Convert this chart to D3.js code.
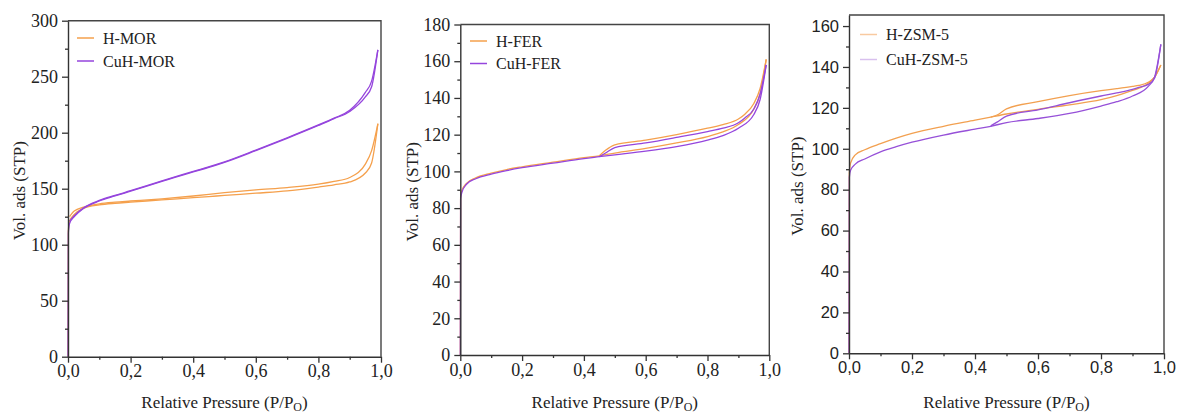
<!DOCTYPE html>
<html>
<head>
<meta charset="utf-8">
<script src="https://cdn.jsdelivr.net/npm/d3@7"></script>
<style>
  body { margin: 0; background: #fff; }
  svg { display: block; }
  .serif { font-family: "Liberation Serif", "DejaVu Serif", serif; }
  .sans { font-family: "Liberation Sans", Arial, sans-serif; }
</style>
</head>
<body>
<script>
// relative pressure grids
var adsP = [0, 0.001, 0.005, 0.02, 0.05, 0.1, 0.15, 0.2, 0.3, 0.4, 0.45, 0.5, 0.6, 0.7, 0.8, 0.85, 0.9, 0.95, 0.97, 0.99];
var desP = [0.45, 0.47, 0.5, 0.6, 0.7, 0.8, 0.85, 0.9, 0.92, 0.95, 0.97, 0.99];
var desPMor = [0.005, 0.02, 0.05, 0.1, 0.15, 0.2, 0.3, 0.4, 0.5, 0.6, 0.7, 0.8, 0.85, 0.9, 0.95, 0.97, 0.99];

// MOR
var hMorAds = [0, 112, 121, 127, 132.5, 135.5, 137, 138, 140, 142, 143, 144, 146, 148, 151.5, 153.5, 156, 164, 173, 208];
var hMorDes = [125, 130, 133.5, 136.5, 138, 139, 141, 143.5, 146.5, 149, 151, 154, 156.5, 160, 172, 184, 208];
var cuMorAds = [0, 110, 119, 125, 132.5, 139, 143.5, 147.8, 156.5, 165, 169, 173.5, 184, 195, 206.5, 212.5, 219, 232, 241, 274];
var cuMorDes = [121, 126, 133, 139.5, 144, 148.2, 157, 165.5, 174, 184.5, 195.5, 207, 213, 220, 236, 246, 274];

// FER
var hFerAds = [0, 86, 89.5, 93.5, 96.5, 99, 101, 102.5, 105, 107.5, 108.5, 110, 112.5, 115.5, 119, 121.5, 125.5, 134, 142, 161];
var hFerDes = [108.5, 111.5, 114.5, 117, 120, 123.5, 125.5, 128.5, 131, 137, 145, 161];
var cuFerAds = [0, 85, 88.5, 93, 96, 98.5, 100.4, 102, 104.5, 107, 108, 109, 111, 113.5, 117, 119.5, 123.5, 131, 139, 158];
var cuFerDes = [108, 110, 113, 115.5, 118.5, 121.7, 123.5, 126.5, 129, 134, 142, 158];

// ZSM-5
var hZsmAds = [0, 88, 93, 97, 99.5, 102.5, 105.2, 107.5, 111, 114, 115.5, 117, 119.3, 121.5, 124, 126, 128.5, 132, 135, 141];
var hZsmDes = [115.5, 116.5, 119.5, 123, 126, 128.4, 129.4, 130.5, 131, 132.5, 135, 141];
var cuZsmAds = [0, 86, 89.5, 92.5, 95, 98.5, 101, 103.2, 106.7, 109.6, 111, 112.8, 114.8, 117.3, 120.9, 123, 125.8, 130.5, 135, 151];
var cuZsmDes = [111.2, 113, 116, 119, 122.5, 125.8, 127.3, 129, 130, 131.5, 134.5, 151];

var xTicks = [0, 0.2, 0.4, 0.6, 0.8, 1.0];

var W = 1178, H = 414;
var orange = '#f5a04c', purple = '#9545dd';

var svg = d3.select('body').append('svg').attr('width', W).attr('height', H);

function zip(p, v) {
    return p.map(function(d, i) { return [d, v[i]]; });
}

function drawPanel(cfg) {
    var g = svg.append('g');
    var x = d3.scaleLinear().domain([0, 1]).range([cfg.left, cfg.right]);
    var y = d3.scaleLinear().domain([0, cfg.ymax]).range([cfg.bottom, cfg.top]);

    var line = d3.line()
        .x(function(d) { return x(d[0]); })
        .y(function(d) { return y(d[1]); })
        .curve(d3.curveMonotoneX);

    cfg.series.forEach(function(s) {
        s.branches.forEach(function(b) {
            g.append('path')
                .attr('d', line(b))
                .attr('fill', 'none')
                .attr('stroke', s.color)
                .attr('stroke-width', 1.3);
        });
    });

    // frame top / right
    g.append('path')
        .attr('d', 'M' + cfg.left + ',' + cfg.top + 'H' + cfg.right + 'V' + cfg.bottom)
        .attr('fill', 'none').attr('stroke', '#444').attr('stroke-width', 1.4);

    // minor ticks
    var yMinor = d3.range(cfg.ystep / 2, cfg.ymax + 0.01, cfg.ystep);
    g.append('g').attr('transform', 'translate(' + cfg.left + ',0)')
        .call(d3.axisLeft(y).tickValues(yMinor).tickSize(3).tickFormat(''))
        .call(function(a) { a.select('.domain').remove(); a.selectAll('line').attr('stroke', '#333').attr('stroke-width', 1.3); });
    g.append('g').attr('transform', 'translate(0,' + cfg.bottom + ')')
        .call(d3.axisBottom(x).tickValues([0.1, 0.3, 0.5, 0.7, 0.9]).tickSize(3).tickFormat(''))
        .call(function(a) { a.select('.domain').remove(); a.selectAll('line').attr('stroke', '#333').attr('stroke-width', 1.3); });

    var yAxis = g.append('g').attr('transform', 'translate(' + cfg.left + ',0)')
        .call(d3.axisLeft(y).tickValues(d3.range(0, cfg.ymax + 0.01, cfg.ystep)).tickSize(6).tickPadding(4).tickSizeOuter(0));
    var xAxis = g.append('g').attr('transform', 'translate(0,' + cfg.bottom + ')')
        .call(d3.axisBottom(x).tickValues(xTicks).tickSize(6).tickPadding(2).tickSizeOuter(0)
            .tickFormat(function(d) { return d3.format('.1f')(d).replace('.', ','); }));
    [yAxis, xAxis].forEach(function(a) {
        a.attr('font-family', null);
        a.select('.domain').attr('stroke', '#333').attr('stroke-width', 1.4);
        a.selectAll('line').attr('stroke', '#333').attr('stroke-width', 1.3);
        a.selectAll('text').attr('fill', '#222').attr('class', cfg.tickFont)
            .attr('font-size', cfg.tickSize);
    });

    // axis titles
    g.append('text')
        .attr('class', 'serif')
        .attr('transform', 'translate(' + cfg.ylabX + ',' + ((cfg.top + cfg.bottom) / 2 + 2) + ') rotate(-90)')
        .attr('text-anchor', 'middle')
        .attr('dy', '0.35em')
        .attr('font-size', 17).attr('fill', '#222')
        .text('Vol. ads (STP)');
    var xl = g.append('text')
        .attr('class', 'serif')
        .attr('x', (cfg.left + cfg.right) / 2).attr('y', 408)
        .attr('text-anchor', 'middle')
        .attr('font-size', 17).attr('fill', '#222');
    xl.append('tspan').text('Relative Pressure (P/P');
    xl.append('tspan').attr('dy', 3).attr('font-size', 12).text('O');
    xl.append('tspan').attr('dy', -3).text(')');

    // legend
    cfg.series.forEach(function(s, i) {
        var ly = cfg.legY + i * cfg.legGap;
        g.append('line')
            .attr('x1', cfg.legX).attr('x2', cfg.legX + 17)
            .attr('y1', ly).attr('y2', ly)
            .attr('stroke', s.legColor || s.color).attr('stroke-width', 1.5);
        g.append('text')
            .attr('class', 'serif')
            .attr('x', cfg.legX + 26).attr('y', ly).attr('dy', '0.35em')
            .attr('font-size', 16).attr('fill', '#222')
            .text(s.name);
    });
}

drawPanel({
    left: 68, right: 381, top: 20.7, bottom: 356.7, ymax: 300, ystep: 50,
    tickFont: 'serif', tickSize: 18, ylabX: 19, legX: 77, legY: 38, legGap: 23,
    series: [
        { name: 'H-MOR', color: orange, branches: [zip(adsP, hMorAds), zip(desPMor, hMorDes)] },
        { name: 'CuH-MOR', color: purple, branches: [zip(adsP, cuMorAds), zip(desPMor, cuMorDes)] }
    ]
});

drawPanel({
    left: 460.3, right: 769.3, top: 24.5, bottom: 355, ymax: 180, ystep: 20,
    tickFont: 'serif', tickSize: 18, ylabX: 412, legX: 470, legY: 41, legGap: 22.5,
    series: [
        { name: 'H-FER', color: orange, branches: [zip(adsP, hFerAds), zip(desP, hFerDes)] },
        { name: 'CuH-FER', color: purple, branches: [zip(adsP, cuFerAds), zip(desP, cuFerDes)] }
    ]
});

drawPanel({
    left: 849, right: 1164, top: 15, bottom: 353.3, ymax: 165.4, ystep: 20,
    tickFont: 'sans', tickSize: 16.5, ylabX: 797, legX: 860, legY: 34.5, legGap: 25,
    series: [
        { name: 'H-ZSM-5', color: '#f2a050', legColor: '#f8caa0', branches: [zip(adsP, hZsmAds), zip(desP, hZsmDes)] },
        { name: 'CuH-ZSM-5', color: '#9650d8', legColor: '#d8c0ee', branches: [zip(adsP, cuZsmAds), zip(desP, cuZsmDes)] }
    ]
});
</script>
</body>
</html>
